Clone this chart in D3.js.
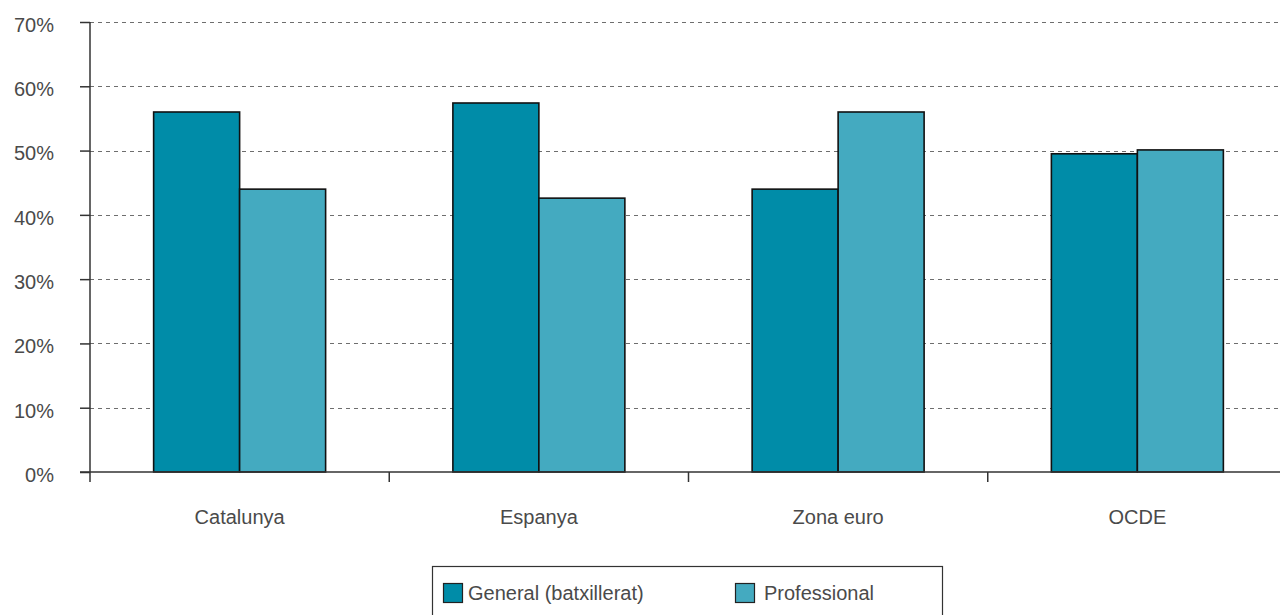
<!DOCTYPE html>
<html><head><meta charset="utf-8">
<script src="https://cdn.jsdelivr.net/npm/d3@7"></script>
<style>
html,body{margin:0;padding:0;background:#fff;}
svg{display:block;font-family:"Liberation Sans",Arial,sans-serif;}
</style></head>
<body><svg id="chart" width="1280" height="615"></svg>
<script>
const categories = ["Catalunya","Espanya","Zona euro","OCDE"];
const seriesNames = ["General (batxillerat)","Professional"];
const generalValues = [56.0, 57.4, 44.0, 49.5];
const professionalValues = [44.0, 42.6, 56.0, 50.1];
const yTicks = [0,10,20,30,40,50,60,70];
const colors = ["#008ca8","#44aac0"];

const svg = d3.select("#chart");
const mLeft = 90, mRight = 1287, mTop = 22, mBottom = 472;
const textColor = "#4a4a4a";
const fontSize = "20px";

const x0 = d3.scaleBand().domain(categories).range([mLeft, mRight]).padding(0);
const x1 = d3.scaleBand().domain(seriesNames).range([0, x0.bandwidth()]).paddingInner(0).paddingOuter(0.74);
const y = d3.scaleLinear().domain([0,70]).range([mBottom, mTop]);

// gridlines
svg.append("g").selectAll("line").data(yTicks.filter(d=>d>0)).join("line")
  .attr("x1", mLeft).attr("x2", 1280)
  .attr("y1", d=>Math.round(y(d))+0.5).attr("y2", d=>Math.round(y(d))+0.5)
  .attr("stroke","#6e6e6e").attr("stroke-width",1).attr("stroke-dasharray","4,4");

// bars
const data = categories.map((c,i)=>({cat:c, vals:[generalValues[i], professionalValues[i]]}));
const groups = svg.append("g").selectAll("g").data(data).join("g")
  .attr("transform", d=>`translate(${x0(d.cat)},0)`);
groups.selectAll("rect").data(d=>d.vals.map((v,j)=>({v, s:seriesNames[j], j}))).join("rect")
  .attr("x", d=>x1(d.s)).attr("width", x1.bandwidth())
  .attr("y", d=>y(d.v)).attr("height", d=>mBottom - y(d.v))
  .attr("fill", d=>colors[d.j]).attr("stroke","#111").attr("stroke-width",1.6);

// y axis
const yAxis = d3.axisLeft(y).tickValues(yTicks).tickFormat(d=>d+"%").tickSize(10).tickPadding(26);
const gy = svg.append("g").attr("transform",`translate(${mLeft},0)`).call(yAxis);
gy.attr("font-size",null).attr("font-family",null);
gy.select(".domain").attr("stroke","#333").attr("stroke-width",1.5).attr("d",`M0,${mTop}V${mBottom}`);
gy.selectAll(".tick line").attr("stroke","#333").attr("stroke-width",1.5);
gy.selectAll(".tick text").attr("fill",textColor).attr("dy","0.47em").style("font-size",fontSize);

// x axis
const xAxis = d3.axisBottom(x0).tickSize(0).tickPadding(0);
const gx = svg.append("g").attr("transform",`translate(0,${mBottom})`).call(xAxis);
gx.attr("font-size",null).attr("font-family",null);
gx.select(".domain").attr("stroke","#333").attr("stroke-width",1.5).attr("d",`M${mLeft-10},0H1280`);
gx.selectAll(".tick text").attr("fill",textColor).attr("dy",null).attr("y",52)
  .style("font-size",fontSize);
// separator ticks between categories
const sepTicks = categories.map(c=>x0(c));
gx.append("g").selectAll("line").data(sepTicks).join("line")
  .attr("x1",d=>d).attr("x2",d=>d).attr("y1",0).attr("y2",10)
  .attr("stroke","#333").attr("stroke-width",1.5);

// legend
const lg = svg.append("g");
lg.append("rect").attr("x",432.5).attr("y",566.5).attr("width",510).attr("height",60)
  .attr("fill","none").attr("stroke","#333").attr("stroke-width",1.2);
const legendX = [443.5, 735.5];
const legendTextX = [468, 764];
seriesNames.forEach((s,i)=>{
  lg.append("rect").attr("x",legendX[i]).attr("y",583.5).attr("width",19).attr("height",19)
    .attr("fill",colors[i]).attr("stroke","#222").attr("stroke-width",1.2);
  lg.append("text").attr("x",legendTextX[i]).attr("y",599.5).text(s)
    .attr("fill",textColor).style("font-size",fontSize);
});
</script></body></html>
